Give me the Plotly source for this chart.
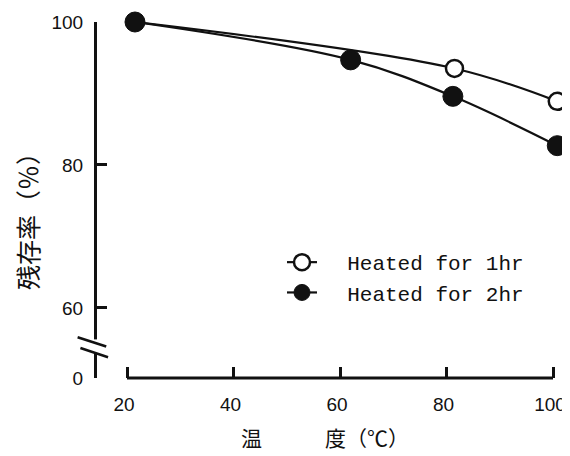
import plotly.graph_objects as go

# data
temp_1hr = [21.5, 81.5, 100.8]
rem_1hr = [100.0, 93.5, 88.9]
temp_2hr = [21.5, 62.0, 81.2, 100.8]
rem_2hr = [100.0, 94.7, 89.6, 82.7]

x_ticks = [20, 40, 60, 80, 100]
y_tickvals = [50.2, 60, 80, 100]
y_ticktext = ["0", "60", "80", "100"]

NB = "\u00a0"
fig = go.Figure()
fig.add_trace(go.Scatter(
    x=temp_1hr, y=rem_1hr, mode="lines+markers", name=NB * 2 + "Heated for 1hr",
    line=dict(color="#111", width=2.2, shape="spline"),
    marker=dict(symbol="circle", size=17, color="white", line=dict(color="#111", width=2.5)),
    cliponaxis=False,
))
fig.add_trace(go.Scatter(
    x=temp_2hr, y=rem_2hr, mode="lines+markers", name=NB * 2 + "Heated for 2hr",
    line=dict(color="#111", width=2.2, shape="spline"),
    marker=dict(symbol="circle", size=20, color="#111", line=dict(color="#111", width=1)),
    cliponaxis=False,
))

# page body has an 8px margin, so the figure is drawn from page (8, 8)
OFF = 8
W, H = 570 - OFF, 456 - OFF
L, T = 97 - OFF, 22 - OFF
R = 570 - 558
B = H - (378 - OFF)
PW, PH = W - L - R, H - T - B
px_per_x = (553 - 127) / 80


def fx(px):  # page px -> paper x
    return (px - OFF - L) / PW


def fy(py):  # page px -> paper y
    return 1 - (py - OFF - T) / PH


fig.update_layout(
    width=W, height=H,
    margin=dict(l=L, r=R, t=T, b=B, autoexpand=False),
    paper_bgcolor="white", plot_bgcolor="white",
    showlegend=True,
    legend=dict(
        x=fx(282), y=fy(242),
        xanchor="left", yanchor="top",
        font=dict(family="Liberation Mono", size=21, color="#111"),
        bgcolor="rgba(0,0,0,0)", tracegroupgap=0,
    ),
    xaxis=dict(
        range=[20 - 30 / px_per_x, 100 + 5 / px_per_x],
        tickvals=x_ticks, ticks="inside", ticklen=11, tickwidth=2.5, tickcolor="#111",
        showline=False, showgrid=False, zeroline=False, automargin=False,
        tickfont=dict(family="Liberation Sans Narrow, Liberation Sans", size=19, color="#111"),
        ticklabelstandoff=13, ticklabelshift=-3,
    ),
    yaxis=dict(
        range=[50.2, 100],
        tickvals=y_tickvals, ticktext=y_ticktext, ticks="inside", ticklen=10, tickwidth=2.5, tickcolor="#111",
        showline=True, linewidth=3, linecolor="#111", showgrid=False, zeroline=False, automargin=False,
        tickfont=dict(family="Liberation Sans Narrow, Liberation Sans", size=19, color="#111"),
        ticklabelstandoff=7,
    ),
)

# x axis line from 20 to 100
fig.add_shape(type="line", xref="x", yref="paper", x0=20, x1=100, y0=0, y1=0,
              line=dict(color="#111", width=3), layer="above")
# y-axis break: white gap and two slashes
fig.add_shape(type="rect", xref="paper", yref="y", x0=-0.02, x1=0.02, y0=53.7, y1=55.6,
              fillcolor="white", line=dict(width=0), layer="above")
fig.add_shape(type="line", xref="paper", yref="y", x0=-0.042, x1=0.02, y0=55.9, y1=54.6,
              line=dict(color="#111", width=2.5), layer="above")
fig.add_shape(type="line", xref="paper", yref="y", x0=-0.036, x1=0.024, y0=54.4, y1=53.1,
              line=dict(color="#111", width=2.5), layer="above")

fig.add_annotation(text="温\u3000\u3000\u3000度（℃）", xref="paper", yref="paper",
                   x=fx(325), y=fy(437), xanchor="center", yanchor="middle",
                   showarrow=False,
                   font=dict(family="Noto Sans CJK JP", size=21, color="#111"))
fig.add_annotation(text="残存率（％）", xref="paper", yref="paper",
                   x=fx(27), y=fy(215), xanchor="center", yanchor="middle",
                   textangle=-90, showarrow=False,
                   font=dict(family="Noto Sans CJK JP", size=25, color="#111"))

fig.write_html("out.html")
